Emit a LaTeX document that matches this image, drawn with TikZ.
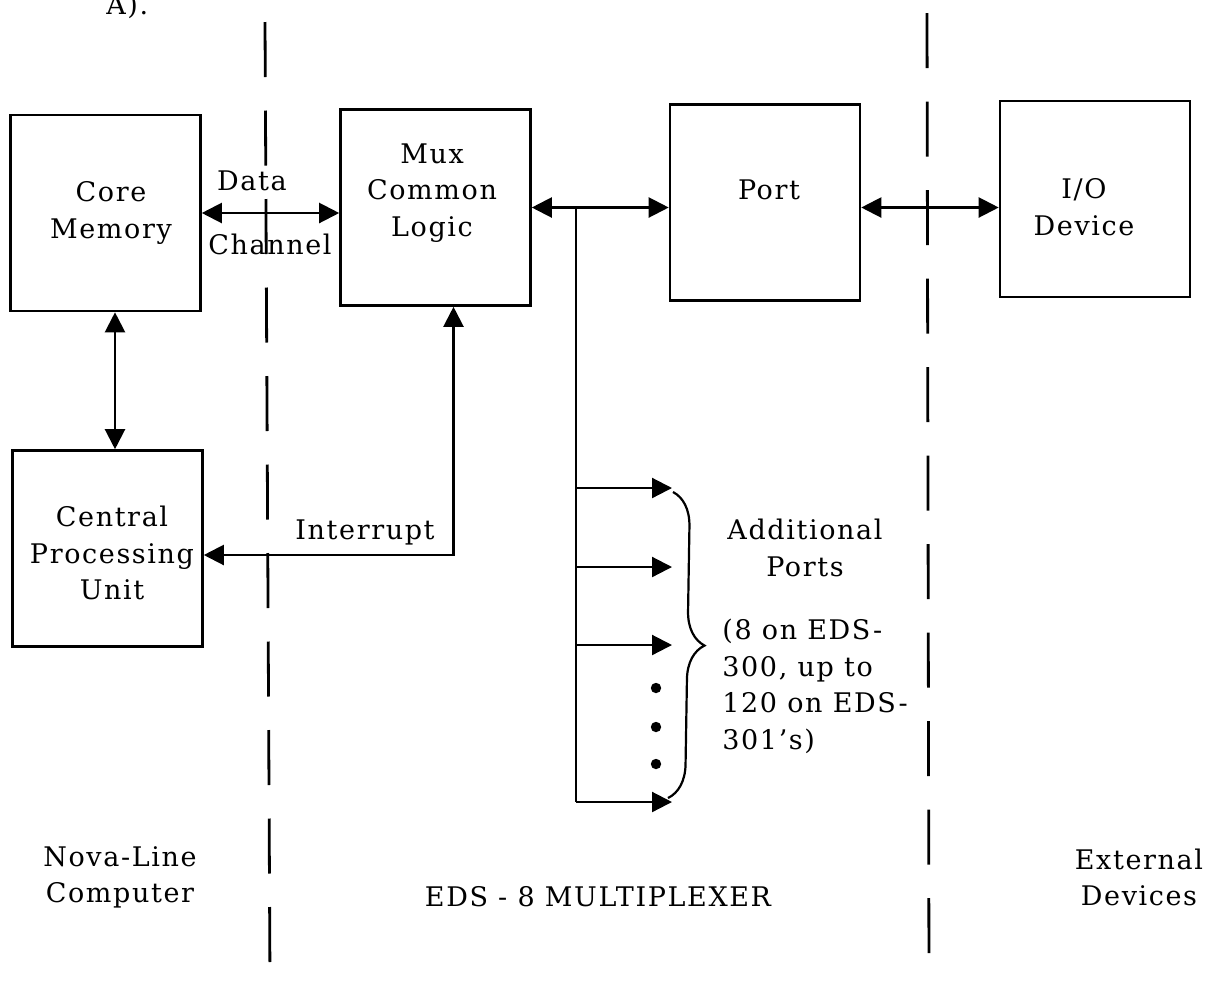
\documentclass[tikz,border=0pt]{standalone}
\usepackage{fontspec}
\setmainfont{DejaVu Serif}[LetterSpace=6]
\usetikzlibrary{arrows.meta,decorations.pathreplacing}

\tikzset{
  unit/.style={draw, line width=1.3pt, minimum width=95pt, minimum height=98pt, inner sep=0pt},
  wire/.style={line width=1.1pt},
  divider/.style={line width=1.4pt, dash pattern=on 27.5pt off 16.75pt},
  txt/.style={align=center, inner sep=0pt},
}

\begin{document}
\begin{tikzpicture}[x=0.5pt, y=-0.5pt, >={Triangle[length=10pt,width=10pt]},
    font=\fontsize{13.5}{18.3}\selectfont]
  \useasboundingbox (0,0) rectangle (1205,981);
  % boxes
  \node[unit] (core) at (105.5,213) {};
  \node[unit] (cpu)  at (107.5,548.5) {};
  \node[unit] (mux)  at (435.5,207.5) {};
  \node[unit] (port) at (765,202.5) {};
  \node[unit] (io)   at (1095,199) {};
  \node[txt] (coret) at (111,213) {Core\\Memory};
  \node[txt] (cput)  at (112,553) {Central\\Processing\\Unit};
  \node[txt] (muxt)  at (432,193) {Mux\\Common\\Logic};
  \node[txt] (portt) at (769,190) {Port};
  \node[txt] (iot)   at (1084,207) {I/O\\Device};

  % dividers
  \draw[divider] (265,22) -- (270,981);
  \draw[divider] (927,13) -- (929,981);

  % connectors
  \draw[wire, <->] (core.east) -- (core.east -| mux.west);
  \draw[wire, <->] ([xshift=4.75pt]core.south) -- ([xshift=4.75pt]core.south |- cpu.north);
  \coordinate (irq) at (453.5,555);
  \draw[wire, <->] (cpu.east |- irq) -- (irq) -- (irq |- mux.south);
  \draw[wire, <->] (mux.east) -- (mux.east -| port.west);
  \draw[wire, <->] (port.east |- mux.east) -- (io.west |- mux.east);

  % fan-out to the other ports
  \coordinate (tap) at (576,207.5);
  \coordinate (tapend) at (576,802);
  \draw[wire] (tap) -- (tapend);
  \foreach \y [count=\i] in {488,567,645,802} {
    \coordinate (fan\i) at (672,\y);
    \draw[wire, ->] (tap |- fan\i) -- (fan\i);
  }
  \foreach \y in {688,727,764} \fill (656,\y) circle (2.6pt);
  \draw[wire, decorate, decoration={brace, amplitude=17pt}] (673,492) -- (668,798);

  % labels
  \node[txt] (datal) at (252,181) {Data};
  \node[txt] (chanl) at (270,244) {Channel};
  \node[txt] (irql)  at (365,532) {Interrupt};
  \node[txt] (addl)  at (805,548) {Additional\\Ports};
  \node[txt, align=left, anchor=west] (countl) at (722,686.5)
    {(8 on EDS-\\300, up to\\120 on EDS-\\301's)};
  \node[txt] (novl) at (120,877.5) {Nova-Line\\Computer};
  \node[txt] (edsl) at (598,897) {EDS - 8 MULTIPLEXER};
  \node[txt] (extl) at (1139,877.5) {External\\Devices};
  \node[anchor=base west, inner sep=0pt] (figl) at (106,14) {A).};
\end{tikzpicture}
\end{document}
